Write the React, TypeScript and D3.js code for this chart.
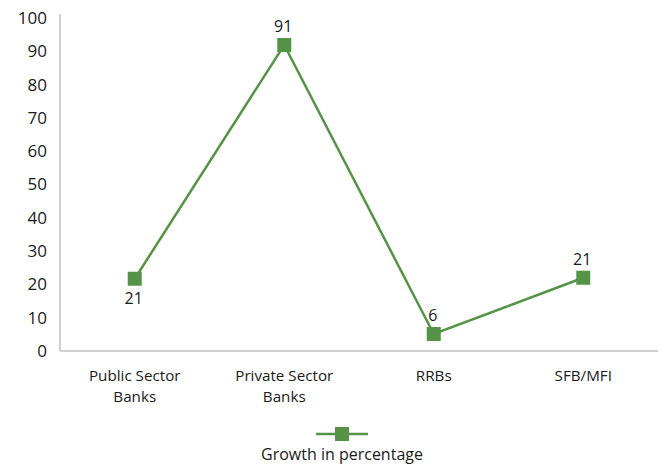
import React from "react";
import * as d3 from "d3";

const categories: string[][] = [
  ["Public Sector", "Banks"],
  ["Private Sector", "Banks"],
  ["RRBs"],
  ["SFB/MFI"],
];
const values: number[] = [21.7, 91.9, 5.1, 22.0];
const valueLabels: string[] = ["21", "91", "6", "21"];
const labelBelow: boolean[] = [true, false, false, false];
const yTicks: number[] = [0, 10, 20, 30, 40, 50, 60, 70, 80, 90, 100];
const seriesName = "Growth in percentage";

const W = 667;
const H = 466;
const M = { left: 60, right: 9, top: 18, bottom: 115 };
const GREEN = "#559447";
const AXIS = "#cfcfcf";
const FONT = "'Open Sans', Lato, sans-serif";

export default function App() {
  const x = d3
    .scaleBand<number>()
    .domain(categories.map((_, i) => i))
    .range([M.left, W - M.right]);
  const y = d3.scaleLinear().domain([0, 100]).range([H - M.bottom, M.top]);
  const cx = (i: number) => (x(i) as number) + x.bandwidth() / 2;
  const line = d3
    .line<number>()
    .x((_, i) => cx(i))
    .y((d) => y(d));
  const baseY = y(0);
  const ms = 14;
  const legendX = 342;
  const legendY = 434;

  return (
    <svg
      width={W}
      height={H}
      style={{ position: "absolute", left: 0, top: 0, background: "#fff" }}
      fontFamily={FONT}
    >
      {/* axes */}
      <line x1={M.left} x2={M.left} y1={14} y2={baseY} stroke={AXIS} strokeWidth={2} />
      <line x1={M.left} x2={W - M.right} y1={baseY} y2={baseY} stroke={AXIS} strokeWidth={2} />
      {yTicks.map((t) => (
        <text
          key={t}
          x={47}
          y={y(t)}
          dy="0.35em"
          textAnchor="end"
          fontSize={17}
          fill="#1a1a1a"
        >
          {t}
        </text>
      ))}
      {categories.map((lines, i) =>
        lines.map((l, j) => (
          <text
            key={`${i}-${j}`}
            x={cx(i)}
            y={375.5 + j * 21}
            dy="0.35em"
            textAnchor="middle"
            fontSize={15.2}
            fill="#1a1a1a"
          >
            {l}
          </text>
        ))
      )}
      <path d={line(values) || ""} fill="none" stroke={GREEN} strokeWidth={2.5} />
      {values.map((v, i) => (
        <rect
          key={i}
          x={cx(i) - ms / 2}
          y={y(v) - ms / 2}
          width={ms}
          height={ms}
          fill={GREEN}
        />
      ))}
      {values.map((v, i) => (
        <text
          key={i}
          x={cx(i) - 1}
          y={labelBelow[i] ? y(v) + 25 : y(v) - 13}
          textAnchor="middle"
          fontSize={16}
          fill="#1a1a1a"
        >
          {valueLabels[i]}
        </text>
      ))}
      {/* legend */}
      <line x1={legendX - 26} x2={legendX + 26} y1={legendY} y2={legendY} stroke={GREEN} strokeWidth={2.5} />
      <rect x={legendX - 7} y={legendY - 7} width={14} height={14} fill={GREEN} />
      <text x={legendX} y={460} textAnchor="middle" fontSize={16} fill="#1a1a1a">
        {seriesName}
      </text>
    </svg>
  );
}
